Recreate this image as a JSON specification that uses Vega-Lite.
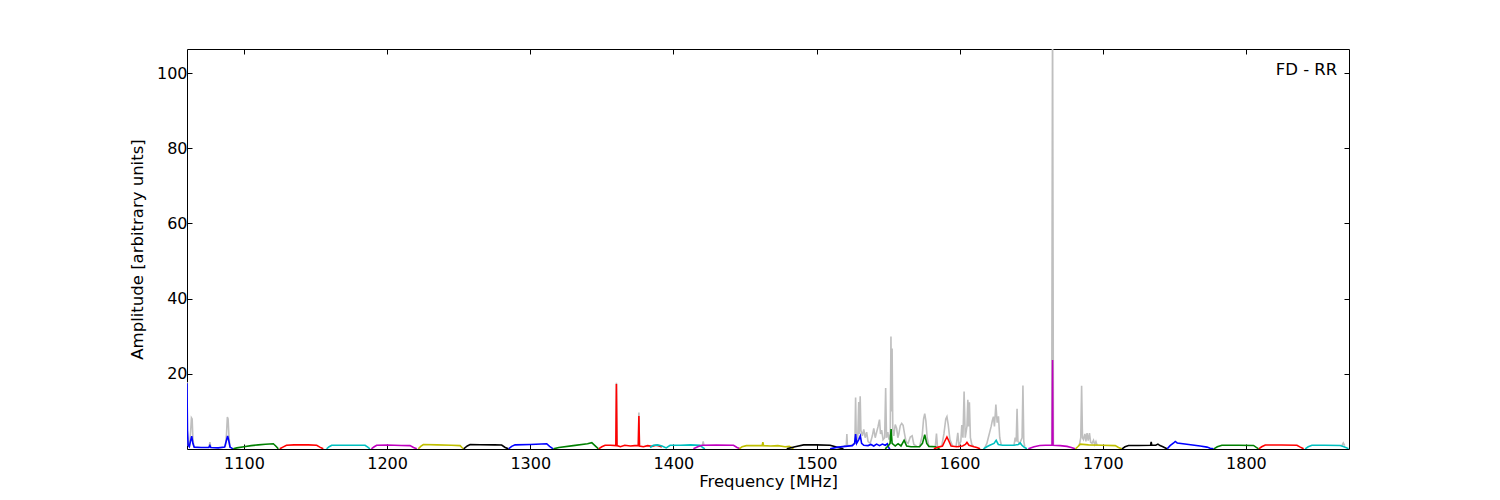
{
"$schema": "https://vega.github.io/schema/vega-lite/v6.json",
"width": 1162, "height": 400,
"autosize": {"type": "none"},
"padding": {"left": 187, "top": 49, "right": 151, "bottom": 51},
"background": "white",
"config": {
  "view": {"stroke": "black", "strokeWidth": 1},
  "font": "DejaVu Sans",
  "axis": {"grid": false, "domain": false, "tickColor": "black", "tickSize": -5, "tickWidth": 1, "labelColor": "black", "labelFontSize": 16, "labelFont": "DejaVu Sans", "titleFont": "DejaVu Sans", "titleFontSize": 16.5, "titleFontWeight": "normal", "titleColor": "black"}
},
"datasets": {
"gray": [
{"s":"g1","f":1060.2,"a":17.8},{"s":"g1","f":1060.5,"a":5},{"s":"g1","f":1061,"a":1},{"s":"g1","f":1062,"a":0.8},{"s":"g1","f":1062.8,"a":5},{"s":"g1","f":1063.3,"a":8.3},{"s":"g1","f":1063.8,"a":8.0},{"s":"g1","f":1064.3,"a":3},{"s":"g1","f":1065,"a":0.6},
{"s":"g2","f":1075.6,"a":0.4},{"s":"g2","f":1076.2,"a":1.8},{"s":"g2","f":1076.8,"a":0.4},
{"s":"g3","f":1087,"a":0.6},{"s":"g3","f":1087.8,"a":4},{"s":"g3","f":1088.4,"a":8.5},{"s":"g3","f":1088.9,"a":8.0},{"s":"g3","f":1089.5,"a":3.5},{"s":"g3","f":1090.2,"a":0.5},
{"s":"g4","f":1359.9,"a":1},{"s":"g4","f":1360.2,"a":17.6},{"s":"g4","f":1360.6,"a":1},
{"s":"g5","f":1375.5,"a":0.9},{"s":"g5","f":1375.9,"a":9.7},{"s":"g5","f":1376.3,"a":0.9},
{"s":"g6","f":1420.3,"a":1},{"s":"g6","f":1420.8,"a":2.0},{"s":"g6","f":1421.3,"a":1},
{"s":"g7","f":1519,"a":0.8},{"s":"g7","f":1520.8,"a":0.9},{"s":"g7","f":1521.2,"a":4.0},{"s":"g7","f":1521.6,"a":0.9},{"s":"g7","f":1524,"a":1.0},{"s":"g7","f":1526.8,"a":1.5},{"s":"g7","f":1527.3,"a":13.7},{"s":"g7","f":1527.8,"a":2.0},{"s":"g7","f":1528.8,"a":3},{"s":"g7","f":1529.5,"a":12.5},{"s":"g7","f":1529.9,"a":4},{"s":"g7","f":1530.5,"a":14.0},{"s":"g7","f":1531,"a":5},{"s":"g7","f":1532,"a":3.5},{"s":"g7","f":1533,"a":5.2},{"s":"g7","f":1534,"a":3},{"s":"g7","f":1535,"a":4.5},{"s":"g7","f":1536,"a":2},{"s":"g7","f":1537.5,"a":1.5},{"s":"g7","f":1539,"a":3.5},{"s":"g7","f":1540,"a":5.5},{"s":"g7","f":1541,"a":3},{"s":"g7","f":1542,"a":4.5},{"s":"g7","f":1543,"a":6},{"s":"g7","f":1544,"a":7.8},{"s":"g7","f":1544.7,"a":4},{"s":"g7","f":1545.5,"a":5},{"s":"g7","f":1546.5,"a":2.5},{"s":"g7","f":1547.6,"a":3},{"s":"g7","f":1548.3,"a":16.2},{"s":"g7","f":1548.9,"a":3},{"s":"g7","f":1549.8,"a":4.5},{"s":"g7","f":1550.6,"a":2.5},{"s":"g7","f":1551.5,"a":4},{"s":"g7","f":1552.0,"a":29.9},{"s":"g7","f":1552.4,"a":10},{"s":"g7","f":1552.8,"a":26.7},{"s":"g7","f":1553.3,"a":5},{"s":"g7","f":1554,"a":3.5},{"s":"g7","f":1555,"a":6.5},{"s":"g7","f":1556,"a":5.5},{"s":"g7","f":1556.8,"a":3},{"s":"g7","f":1557.5,"a":4},{"s":"g7","f":1558.5,"a":6.2},{"s":"g7","f":1559.5,"a":6.8},{"s":"g7","f":1560.5,"a":6.3},{"s":"g7","f":1561.5,"a":4},{"s":"g7","f":1562.5,"a":2},{"s":"g7","f":1564,"a":1.5},{"s":"g7","f":1565.5,"a":3.2},{"s":"g7","f":1566.8,"a":3.5},{"s":"g7","f":1568,"a":1.2},{"s":"g7","f":1570,"a":0.7},
{"s":"g8","f":1572,"a":0.7},{"s":"g8","f":1573.8,"a":3.5},{"s":"g8","f":1574.8,"a":8},{"s":"g8","f":1575.6,"a":9.4},{"s":"g8","f":1576.4,"a":7.5},{"s":"g8","f":1577.3,"a":3},{"s":"g8","f":1578.5,"a":0.8},
{"s":"g9","f":1583,"a":0.6},{"s":"g9","f":1583.8,"a":4.1},{"s":"g9","f":1584.5,"a":0.6},
{"s":"g10","f":1587.5,"a":0.8},{"s":"g10","f":1589,"a":4},{"s":"g10","f":1590.3,"a":8.0},{"s":"g10","f":1591.1,"a":8.6},{"s":"g10","f":1592,"a":6.5},{"s":"g10","f":1593.2,"a":2.5},{"s":"g10","f":1595,"a":0.8},
{"s":"g11","f":1597.5,"a":0.7},{"s":"g11","f":1598.7,"a":4.3},{"s":"g11","f":1599.5,"a":1},{"s":"g11","f":1600.8,"a":2},{"s":"g11","f":1601.5,"a":6.4},{"s":"g11","f":1602.3,"a":3},{"s":"g11","f":1603.1,"a":15.3},{"s":"g11","f":1603.9,"a":3},{"s":"g11","f":1605.1,"a":6},{"s":"g11","f":1605.7,"a":13.1},{"s":"g11","f":1606.2,"a":6},{"s":"g11","f":1606.8,"a":12.4},{"s":"g11","f":1607.5,"a":3},{"s":"g11","f":1608.5,"a":1.2},{"s":"g11","f":1610,"a":0.6},
{"s":"g12","f":1617.5,"a":0.3},{"s":"g12","f":1619,"a":1.5},{"s":"g12","f":1620,"a":3},{"s":"g12","f":1621,"a":4.5},{"s":"g12","f":1622,"a":6},{"s":"g12","f":1622.8,"a":7.5},{"s":"g12","f":1623.6,"a":8.6},{"s":"g12","f":1624.3,"a":6},{"s":"g12","f":1625.3,"a":11.8},{"s":"g12","f":1626.2,"a":7},{"s":"g12","f":1627.1,"a":8.7},{"s":"g12","f":1628,"a":3},{"s":"g12","f":1629,"a":1.2},
{"s":"g13","f":1638,"a":1},{"s":"g13","f":1638.8,"a":3},{"s":"g13","f":1639.5,"a":2},{"s":"g13","f":1640.1,"a":10.7},{"s":"g13","f":1640.7,"a":2},{"s":"g13","f":1642,"a":1.5},{"s":"g13","f":1643.6,"a":3},{"s":"g13","f":1644.2,"a":16.9},{"s":"g13","f":1644.8,"a":2},{"s":"g13","f":1645.5,"a":0.6},
{"s":"g14","f":1664.3,"a":1},{"s":"g14","f":1664.9,"a":120},{"s":"g14","f":1665.5,"a":1},
{"s":"g15","f":1683.5,"a":0.8},{"s":"g15","f":1684.6,"a":3},{"s":"g15","f":1685.2,"a":16.8},{"s":"g15","f":1685.8,"a":3},{"s":"g15","f":1686.5,"a":2.5},{"s":"g15","f":1687.5,"a":4.0},{"s":"g15","f":1688.2,"a":2},{"s":"g15","f":1689,"a":4.2},{"s":"g15","f":1689.8,"a":2.2},{"s":"g15","f":1690.7,"a":4.2},{"s":"g15","f":1691.5,"a":1.8},{"s":"g15","f":1692.5,"a":1.5},{"s":"g15","f":1693.5,"a":2.3},{"s":"g15","f":1694.3,"a":1.2},{"s":"g15","f":1695.2,"a":2.0},{"s":"g15","f":1696,"a":1.0},
{"s":"g16","f":1867,"a":0.9},{"s":"g16","f":1868,"a":1.6},{"s":"g16","f":1869,"a":0.9}
],
"bands": [
{"s":"b01","c":"b","f":1060.2,"a":17.5},{"s":"b01","c":"b","f":1060.5,"a":5},{"s":"b01","c":"b","f":1061,"a":1.0},{"s":"b01","c":"b","f":1061.8,"a":0.6},{"s":"b01","c":"b","f":1062.6,"a":2.0},{"s":"b01","c":"b","f":1063.5,"a":3.4},{"s":"b01","c":"b","f":1064.3,"a":1.5},{"s":"b01","c":"b","f":1065.2,"a":0.5},{"s":"b01","c":"b","f":1070,"a":0.4},{"s":"b01","c":"b","f":1075.5,"a":0.4},{"s":"b01","c":"b","f":1076.2,"a":0.9},{"s":"b01","c":"b","f":1076.8,"a":0.4},{"s":"b01","c":"b","f":1082,"a":0.3},{"s":"b01","c":"b","f":1086.5,"a":0.5},{"s":"b01","c":"b","f":1087.7,"a":2.2},{"s":"b01","c":"b","f":1088.6,"a":3.5},{"s":"b01","c":"b","f":1089.5,"a":2.0},{"s":"b01","c":"b","f":1090.3,"a":0.5},{"s":"b01","c":"b","f":1091.2,"a":0.3},{"s":"b01","c":"b","f":1092.3,"a":0.05},
{"s":"b02","c":"g","f":1092.5,"a":0.05},{"s":"b02","c":"g","f":1095,"a":0.3},{"s":"b02","c":"g","f":1100,"a":0.6},{"s":"b02","c":"g","f":1105,"a":0.9},{"s":"b02","c":"g","f":1110,"a":1.1},{"s":"b02","c":"g","f":1115,"a":1.25},{"s":"b02","c":"g","f":1120.5,"a":1.4},{"s":"b02","c":"g","f":1122.2,"a":0.8},{"s":"b02","c":"g","f":1124,"a":0.05},
{"s":"b03","c":"r","f":1125,"a":0.05},{"s":"b03","c":"r","f":1127.2,"a":0.5},{"s":"b03","c":"r","f":1129.7,"a":1.0},{"s":"b03","c":"r","f":1135,"a":1.1},{"s":"b03","c":"r","f":1140,"a":1.15},{"s":"b03","c":"r","f":1145,"a":1.1},{"s":"b03","c":"r","f":1150.8,"a":1.0},{"s":"b03","c":"r","f":1153,"a":0.5},{"s":"b03","c":"r","f":1155.4,"a":0.05},
{"s":"b04","c":"c","f":1157.7,"a":0.05},{"s":"b04","c":"c","f":1159.5,"a":0.6},{"s":"b04","c":"c","f":1161.3,"a":1.0},{"s":"b04","c":"c","f":1170,"a":1.0},{"s":"b04","c":"c","f":1178,"a":1.0},{"s":"b04","c":"c","f":1184.6,"a":1.0},{"s":"b04","c":"c","f":1186.5,"a":0.5},{"s":"b04","c":"c","f":1188,"a":0.05},
{"s":"b05","c":"m","f":1189,"a":0.05},{"s":"b05","c":"m","f":1191,"a":0.6},{"s":"b05","c":"m","f":1192.7,"a":1.0},{"s":"b05","c":"m","f":1200,"a":1.05},{"s":"b05","c":"m","f":1210,"a":0.95},{"s":"b05","c":"m","f":1216,"a":0.9},{"s":"b05","c":"m","f":1218.5,"a":0.4},{"s":"b05","c":"m","f":1220.7,"a":0.05},
{"s":"b06","c":"y","f":1221.8,"a":0.05},{"s":"b06","c":"y","f":1223.5,"a":0.7},{"s":"b06","c":"y","f":1225.3,"a":1.2},{"s":"b06","c":"y","f":1235,"a":1.1},{"s":"b06","c":"y","f":1245,"a":1.0},{"s":"b06","c":"y","f":1251,"a":0.9},{"s":"b06","c":"y","f":1252.3,"a":0.4},{"s":"b06","c":"y","f":1253.3,"a":0.05},
{"s":"b07","c":"k","f":1253.5,"a":0.05},{"s":"b07","c":"k","f":1256,"a":0.8},{"s":"b07","c":"k","f":1258,"a":1.2},{"s":"b07","c":"k","f":1265,"a":1.15},{"s":"b07","c":"k","f":1275,"a":1.1},{"s":"b07","c":"k","f":1280,"a":1.05},{"s":"b07","c":"k","f":1282.5,"a":0.4},{"s":"b07","c":"k","f":1284.7,"a":0.05},
{"s":"b08","c":"b","f":1284.9,"a":0.05},{"s":"b08","c":"b","f":1287,"a":0.7},{"s":"b08","c":"b","f":1289.4,"a":1.1},{"s":"b08","c":"b","f":1300,"a":1.2},{"s":"b08","c":"b","f":1311.5,"a":1.4},{"s":"b08","c":"b","f":1313.5,"a":0.7},{"s":"b08","c":"b","f":1316,"a":0.05},
{"s":"b09","c":"g","f":1316.2,"a":0.05},{"s":"b09","c":"g","f":1320,"a":0.4},{"s":"b09","c":"g","f":1330,"a":0.9},{"s":"b09","c":"g","f":1340,"a":1.4},{"s":"b09","c":"g","f":1343,"a":1.7},{"s":"b09","c":"g","f":1345.2,"a":0.9},{"s":"b09","c":"g","f":1347.6,"a":0.05},
{"s":"b10","c":"r","f":1347.8,"a":0.05},{"s":"b10","c":"r","f":1350,"a":0.6},{"s":"b10","c":"r","f":1352.3,"a":1.0},{"s":"b10","c":"r","f":1356,"a":1.0},{"s":"b10","c":"r","f":1359.8,"a":0.9},{"s":"b10","c":"r","f":1360.2,"a":17.3},{"s":"b10","c":"r","f":1360.6,"a":0.9},{"s":"b10","c":"r","f":1363,"a":0.6},{"s":"b10","c":"r","f":1366,"a":1.0},{"s":"b10","c":"r","f":1370,"a":0.8},{"s":"b10","c":"r","f":1373,"a":0.9},{"s":"b10","c":"r","f":1375.5,"a":0.9},{"s":"b10","c":"r","f":1375.9,"a":8.8},{"s":"b10","c":"r","f":1376.3,"a":0.8},{"s":"b10","c":"r","f":1379,"a":0.6},{"s":"b10","c":"r","f":1382,"a":0.9},{"s":"b10","c":"r","f":1385,"a":0.7},{"s":"b10","c":"r","f":1388,"a":1.0},{"s":"b10","c":"r","f":1390,"a":0.8},{"s":"b10","c":"r","f":1391.9,"a":0.5},
{"s":"b11","c":"c","f":1383.7,"a":0.4},{"s":"b11","c":"c","f":1386,"a":1.0},{"s":"b11","c":"c","f":1389,"a":1.1},{"s":"b11","c":"c","f":1392,"a":0.8},{"s":"b11","c":"c","f":1395,"a":0.3},{"s":"b11","c":"c","f":1397.7,"a":1.0},{"s":"b11","c":"c","f":1405,"a":1.0},{"s":"b11","c":"c","f":1412,"a":1.1},{"s":"b11","c":"c","f":1418.7,"a":1.0},{"s":"b11","c":"c","f":1420.5,"a":0.4},{"s":"b11","c":"c","f":1422,"a":0.05},
{"s":"b12","c":"m","f":1414,"a":0.05},{"s":"b12","c":"m","f":1417,"a":0.6},{"s":"b12","c":"m","f":1420,"a":1.0},{"s":"b12","c":"m","f":1430,"a":1.05},{"s":"b12","c":"m","f":1442,"a":1.0},{"s":"b12","c":"m","f":1444.5,"a":0.4},{"s":"b12","c":"m","f":1446.6,"a":0.05},
{"s":"b13","c":"y","f":1446,"a":0.05},{"s":"b13","c":"y","f":1448,"a":0.6},{"s":"b13","c":"y","f":1451,"a":0.9},{"s":"b13","c":"y","f":1458,"a":0.9},{"s":"b13","c":"y","f":1462,"a":0.9},{"s":"b13","c":"y","f":1462.5,"a":1.8},{"s":"b13","c":"y","f":1463,"a":0.9},{"s":"b13","c":"y","f":1468,"a":0.8},{"s":"b13","c":"y","f":1473,"a":0.9},{"s":"b13","c":"y","f":1478,"a":0.6},{"s":"b13","c":"y","f":1481,"a":0.7},{"s":"b13","c":"y","f":1483.9,"a":0.05},
{"s":"b14","c":"k","f":1479.2,"a":0.05},{"s":"b14","c":"k","f":1485,"a":0.6},{"s":"b14","c":"k","f":1491,"a":1.1},{"s":"b14","c":"k","f":1500,"a":1.1},{"s":"b14","c":"k","f":1509.5,"a":1.0},{"s":"b14","c":"k","f":1514,"a":0.5},{"s":"b14","c":"k","f":1518.8,"a":0.05},
{"s":"b15","c":"b","f":1509.5,"a":0.05},{"s":"b15","c":"b","f":1515,"a":0.5},{"s":"b15","c":"b","f":1520,"a":0.7},{"s":"b15","c":"b","f":1525,"a":0.9},{"s":"b15","c":"b","f":1526.6,"a":1.5},{"s":"b15","c":"b","f":1527.3,"a":4.0},{"s":"b15","c":"b","f":1528,"a":1.5},{"s":"b15","c":"b","f":1529.5,"a":2.5},{"s":"b15","c":"b","f":1530.6,"a":3.5},{"s":"b15","c":"b","f":1531.5,"a":1.5},{"s":"b15","c":"b","f":1533,"a":1.0},{"s":"b15","c":"b","f":1536,"a":0.9},{"s":"b15","c":"b","f":1538,"a":1.2},{"s":"b15","c":"b","f":1540,"a":0.8},{"s":"b15","c":"b","f":1542,"a":1.3},{"s":"b15","c":"b","f":1544,"a":0.9},{"s":"b15","c":"b","f":1546,"a":1.3},{"s":"b15","c":"b","f":1548,"a":1.0},{"s":"b15","c":"b","f":1549.5,"a":1.4},{"s":"b15","c":"b","f":1550.5,"a":0.3},{"s":"b15","c":"b","f":1551.4,"a":0.05},
{"s":"b16","c":"g","f":1548,"a":0.05},{"s":"b16","c":"g","f":1550,"a":0.8},{"s":"b16","c":"g","f":1551.4,"a":1.5},{"s":"b16","c":"g","f":1552.1,"a":5.3},{"s":"b16","c":"g","f":1552.8,"a":1.5},{"s":"b16","c":"g","f":1555,"a":0.8},{"s":"b16","c":"g","f":1557,"a":1.4},{"s":"b16","c":"g","f":1559,"a":0.8},{"s":"b16","c":"g","f":1561.2,"a":2.3},{"s":"b16","c":"g","f":1563,"a":0.8},{"s":"b16","c":"g","f":1566,"a":0.6},{"s":"b16","c":"g","f":1572,"a":0.6},{"s":"b16","c":"g","f":1574,"a":1.5},{"s":"b16","c":"g","f":1575.6,"a":3.8},{"s":"b16","c":"g","f":1577,"a":1.5},{"s":"b16","c":"g","f":1578.5,"a":0.7},{"s":"b16","c":"g","f":1583,"a":0.6},{"s":"b16","c":"g","f":1584.5,"a":0.3},{"s":"b16","c":"g","f":1586,"a":0.05},
{"s":"b17","c":"r","f":1582,"a":0.05},{"s":"b17","c":"r","f":1585,"a":0.5},{"s":"b17","c":"r","f":1588,"a":0.8},{"s":"b17","c":"r","f":1589.5,"a":2.0},{"s":"b17","c":"r","f":1591.1,"a":3.2},{"s":"b17","c":"r","f":1592.6,"a":2.0},{"s":"b17","c":"r","f":1594,"a":0.8},{"s":"b17","c":"r","f":1598,"a":0.6},{"s":"b17","c":"r","f":1602,"a":0.8},{"s":"b17","c":"r","f":1604,"a":1.2},{"s":"b17","c":"r","f":1605.1,"a":1.75},{"s":"b17","c":"r","f":1606.5,"a":1.0},{"s":"b17","c":"r","f":1610,"a":0.6},{"s":"b17","c":"r","f":1612,"a":0.4},{"s":"b17","c":"r","f":1614.3,"a":0.05},
{"s":"b18","c":"c","f":1616.6,"a":0.05},{"s":"b18","c":"c","f":1619,"a":0.6},{"s":"b18","c":"c","f":1621,"a":1.0},{"s":"b18","c":"c","f":1624,"a":1.5},{"s":"b18","c":"c","f":1625.5,"a":2.3},{"s":"b18","c":"c","f":1627,"a":1.2},{"s":"b18","c":"c","f":1630,"a":1.0},{"s":"b18","c":"c","f":1638,"a":1.0},{"s":"b18","c":"c","f":1641,"a":1.2},{"s":"b18","c":"c","f":1642.3,"a":1.6},{"s":"b18","c":"c","f":1643.5,"a":1.0},{"s":"b18","c":"c","f":1645,"a":0.5},{"s":"b18","c":"c","f":1647,"a":0.05},
{"s":"b19","c":"m","f":1648,"a":0.05},{"s":"b19","c":"m","f":1652,"a":0.6},{"s":"b19","c":"m","f":1656,"a":0.95},{"s":"b19","c":"m","f":1660,"a":1.0},{"s":"b19","c":"m","f":1664.6,"a":1.0},{"s":"b19","c":"m","f":1664.9,"a":23.7},{"s":"b19","c":"m","f":1665.2,"a":1.0},{"s":"b19","c":"m","f":1670.2,"a":0.9},{"s":"b19","c":"m","f":1675,"a":0.7},{"s":"b19","c":"m","f":1678,"a":0.4},{"s":"b19","c":"m","f":1680.7,"a":0.05},
{"s":"b20","c":"y","f":1680.9,"a":0.05},{"s":"b20","c":"y","f":1682.5,"a":0.6},{"s":"b20","c":"y","f":1684.2,"a":1.3},{"s":"b20","c":"y","f":1690,"a":1.1},{"s":"b20","c":"y","f":1700,"a":1.0},{"s":"b20","c":"y","f":1708.7,"a":0.9},{"s":"b20","c":"y","f":1711,"a":0.4},{"s":"b20","c":"y","f":1713.3,"a":0.05},
{"s":"b21","c":"k","f":1713.5,"a":0.05},{"s":"b21","c":"k","f":1715.5,"a":0.6},{"s":"b21","c":"k","f":1718,"a":0.95},{"s":"b21","c":"k","f":1725,"a":0.95},{"s":"b21","c":"k","f":1733.4,"a":1.0},{"s":"b21","c":"k","f":1733.8,"a":1.9},{"s":"b21","c":"k","f":1734.2,"a":1.0},{"s":"b21","c":"k","f":1737,"a":1.0},{"s":"b21","c":"k","f":1738.5,"a":1.3},{"s":"b21","c":"k","f":1740,"a":0.9},{"s":"b21","c":"k","f":1742,"a":0.6},{"s":"b21","c":"k","f":1744.8,"a":0.05},
{"s":"b22","c":"b","f":1745,"a":0.05},{"s":"b22","c":"b","f":1747,"a":0.9},{"s":"b22","c":"b","f":1749.5,"a":1.6},{"s":"b22","c":"b","f":1750.6,"a":2.0},{"s":"b22","c":"b","f":1752,"a":1.6},{"s":"b22","c":"b","f":1760,"a":1.2},{"s":"b22","c":"b","f":1768,"a":0.8},{"s":"b22","c":"b","f":1772.8,"a":0.5},{"s":"b22","c":"b","f":1775,"a":0.2},{"s":"b22","c":"b","f":1777.4,"a":0.05},
{"s":"b23","c":"g","f":1777.6,"a":0.05},{"s":"b23","c":"g","f":1780,"a":0.6},{"s":"b23","c":"g","f":1783.2,"a":1.0},{"s":"b23","c":"g","f":1795,"a":1.0},{"s":"b23","c":"g","f":1805.3,"a":0.95},{"s":"b23","c":"g","f":1807,"a":0.5},{"s":"b23","c":"g","f":1808.8,"a":0.05},
{"s":"b24","c":"r","f":1809,"a":0.05},{"s":"b24","c":"r","f":1811,"a":0.6},{"s":"b24","c":"r","f":1813.5,"a":1.05},{"s":"b24","c":"r","f":1825,"a":1.05},{"s":"b24","c":"r","f":1835.6,"a":1.0},{"s":"b24","c":"r","f":1838,"a":0.5},{"s":"b24","c":"r","f":1840.3,"a":0.05},
{"s":"b25","c":"c","f":1841.4,"a":0.05},{"s":"b25","c":"c","f":1843.5,"a":0.6},{"s":"b25","c":"c","f":1846.1,"a":1.0},{"s":"b25","c":"c","f":1855,"a":1.0},{"s":"b25","c":"c","f":1865.9,"a":0.95},{"s":"b25","c":"c","f":1868.5,"a":0.6},{"s":"b25","c":"c","f":1871.7,"a":0.1}
],
"label": [{"t": "FD - RR", "f": 1863.8, "a": 100.8}]
},
"layer": [
{
  "data": {"name": "gray"},
  "mark": {"type": "line", "color": "#bfbfbf", "strokeWidth": 1.6, "clip": true},
  "encoding": {
    "x": {"field": "f", "type": "quantitative", "scale": {"domain": [1060.2, 1872], "nice": false, "zero": false},
          "axis": {"orient": "bottom", "values": [1100,1200,1300,1400,1500,1600,1700,1800], "format": "d", "title": "Frequency [MHz]", "labelPadding": 11, "titlePadding": 2}},
    "y": {"field": "a", "type": "quantitative", "scale": {"domain": [0, 106.4], "nice": false, "zero": false},
          "axis": {"orient": "left", "values": [20,40,60,80,100], "format": "d", "title": "Amplitude [arbitrary units]", "labelPadding": 5, "titlePadding": 11}},
    "detail": {"field": "s"}
  }
},
{
  "data": {"name": "bands"},
  "mark": {"type": "line", "strokeWidth": 1.6, "clip": true},
  "encoding": {
    "x": {"field": "f", "type": "quantitative", "axis": {"orient": "top", "values": [1100,1200,1300,1400,1500,1600,1700,1800], "labels": false, "title": null}},
    "y": {"field": "a", "type": "quantitative", "axis": {"orient": "right", "values": [20,40,60,80,100], "labels": false, "title": null}},
    "color": {"field": "c", "type": "nominal", "legend": null,
              "scale": {"domain": ["b","g","r","c","m","y","k"], "range": ["#0000ff","#008000","#ff0000","#00bfbf","#bf00bf","#bfbf00","#000000"]}},
    "detail": {"field": "s"}
  }
},
{
  "data": {"name": "label"},
  "mark": {"type": "text", "align": "right", "baseline": "middle", "fontSize": 16.5, "font": "DejaVu Sans", "color": "black"},
  "encoding": {
    "x": {"field": "f", "type": "quantitative", "axis": null},
    "y": {"field": "a", "type": "quantitative", "axis": null},
    "text": {"field": "t"}
  }
}
],
"resolve": {"axis": {"x": "independent", "y": "independent"}}
}
